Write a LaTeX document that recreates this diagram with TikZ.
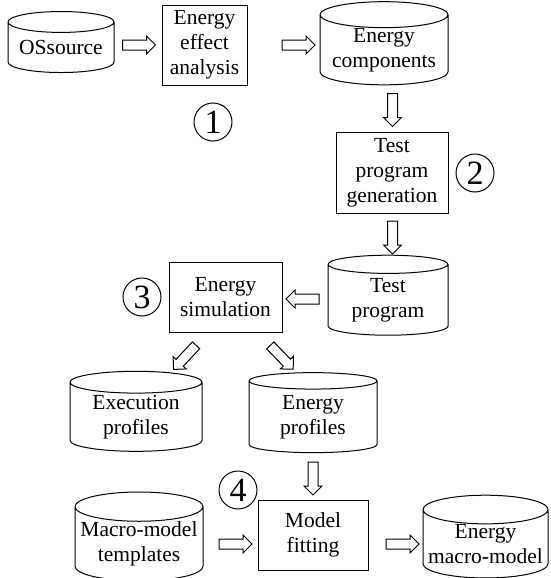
\documentclass[tikz,border=0pt]{standalone}
\usepackage{fontspec}
\setmainfont{Liberation Serif}
\usetikzlibrary{shapes.geometric,shapes.arrows}
\begin{document}
\begin{tikzpicture}[x=0.5pt, y=-0.5pt,
  box/.style={draw, line width=0.5pt, align=center, inner sep=0pt, font=\fontsize{10.75}{12.5}\selectfont},
  store/.style={cylinder, shape border rotate=90, aspect=0.25, draw, line width=0.5pt, align=center, inner sep=0pt, font=\fontsize{10.75}{12.5}\selectfont},
  num/.style={circle, draw, line width=0.5pt, minimum size=19pt, inner sep=0pt, font=\fontsize{17}{17}\selectfont},
  blk/.style={single arrow, draw, line width=0.5pt, minimum height=16.5pt, inner xsep=0pt, inner ysep=2.25pt, text height=0pt, text depth=0pt, single arrow head extend=2pt}
]
\useasboundingbox (0,0) rectangle (551,578);

\node[store, minimum width=53pt, minimum height=30.5pt] (os) at (61,47.5) {OSsource};
\node[box, minimum width=42.5pt, minimum height=40pt] (eea) at (204.5,45) {Energy\\effect\\analysis};
\node[store, minimum width=64pt, minimum height=40pt] (comp) at (384,50) {Energy\\components};
\node[box, minimum width=56pt, minimum height=40.5pt] (tpg) at (392,172.5) {Test\\program\\generation};
\node[store, minimum width=60pt, minimum height=40pt] (tp) at (388,300) {Test\\program};
\node[box, minimum width=56.5pt, minimum height=35pt] (sim) at (225.5,297) {Energy\\simulation};
\node[store, minimum width=66pt, minimum height=40pt] (exe) at (136,417) {Execution\\profiles};
\node[store, minimum width=64pt, minimum height=40pt] (epr) at (313,417) {Energy\\profiles};
\node[box, minimum width=55pt, minimum height=35pt] (fit) at (313,535) {Model\\fitting};
\node[store, minimum width=64pt, minimum height=37pt] (tpl) at (139,544) {Macro-model\\templates};
\node[store, minimum width=62.5pt, minimum height=37pt] (mac) at (485.5,544) {Energy\\macro-model};

% step numbers
\node[num] (n1) at (213,122) {1};
\node[num] (n2) at (475,173) {2};
\node[num] (n3) at (142,297) {3};
\node[num] (n4) at (238,490) {4};

% block arrows
\node[blk] (a1) at (136.5,45) {};
\node[blk] (a2) at (296,45) {};
\node[blk, rotate=-90] (a3) at (392.5,107.5) {};
\node[blk, rotate=-90] (a4) at (392.5,235) {};
\node[blk, rotate=180] (a5) at (305,299) {};
\node[blk, rotate=-133] (a6) at (186.5,355.5) {};
\node[blk, rotate=-46] (a7) at (280,355.5) {};
\node[blk, rotate=-90] (a8) at (313,476) {};
\node[blk] (a9) at (233,544) {};
\node[blk] (a10) at (400,544) {};
\end{tikzpicture}
\end{document}
